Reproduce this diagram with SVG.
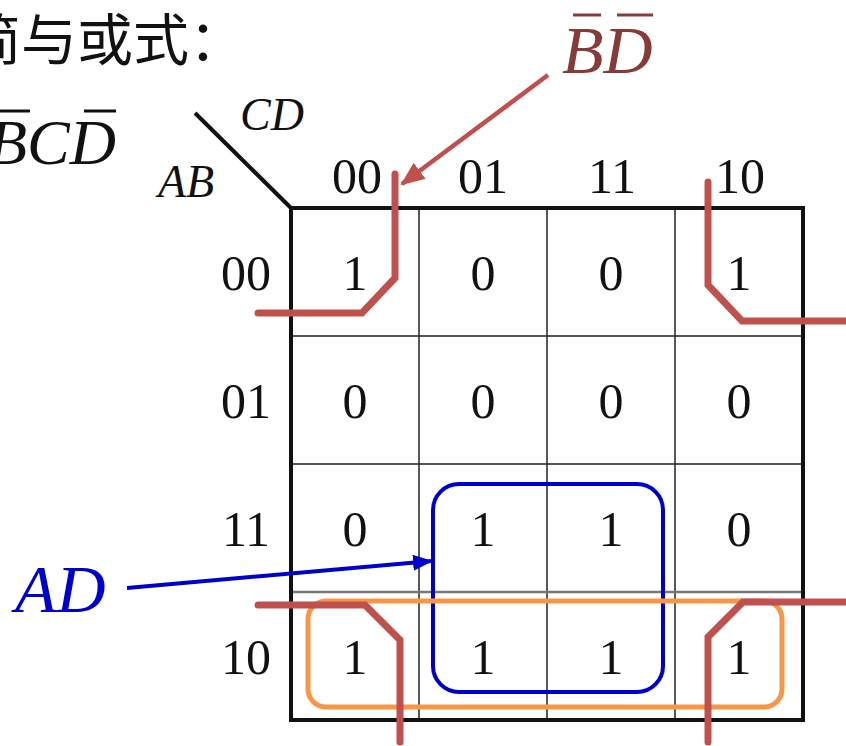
<svg xmlns="http://www.w3.org/2000/svg" width="846" height="746" viewBox="0 0 846 746">
<defs>
<style>
.t{font-family:"Liberation Serif","Times New Roman",serif;fill:#111}
.num{font-size:50px;text-anchor:middle}
.it{font-style:italic}
.grid{stroke:#222;fill:none}
.red{stroke:#C0504D;stroke-width:7;fill:none;stroke-linecap:round;stroke-linejoin:miter}
</style>
<marker id="ahr" markerUnits="userSpaceOnUse" markerWidth="24" markerHeight="20" viewBox="0 0 24 20" refX="22" refY="10" orient="auto">
<path d="M0,0 L24,10 L0,20 Z" fill="#C0504D"/>
</marker>
<marker id="ahb" markerUnits="userSpaceOnUse" markerWidth="20" markerHeight="16" viewBox="0 0 20 16" refX="19" refY="8" orient="auto">
<path d="M0,0 L20,8 L0,16 Z" fill="#0000CC"/>
</marker>
</defs>
<rect width="846" height="746" fill="#fff"/>

<g id="header-text">
<text x="-35" y="60" style="font-family:'Noto Sans CJK SC','Noto Sans',sans-serif;font-size:56px" fill="#111">简与或式：</text>
<text class="t it" x="-12" y="164" font-size="64">BCD</text>
<line x1="0" y1="111" x2="30" y2="111" stroke="#111" stroke-width="3"/>
<line x1="84" y1="111" x2="116" y2="111" stroke="#111" stroke-width="3"/>
</g>

<g id="kmap-grid">
<line x1="195" y1="113" x2="291" y2="208" stroke="#111" stroke-width="4"/>
<line class="grid" x1="419" y1="208" x2="419" y2="720" stroke-width="1.5"/>
<line class="grid" x1="547" y1="208" x2="547" y2="720" stroke-width="1.5"/>
<line class="grid" x1="675" y1="208" x2="675" y2="720" stroke-width="1.5"/>
<line class="grid" x1="291" y1="336" x2="803" y2="336" stroke-width="1.5"/>
<line class="grid" x1="291" y1="464" x2="803" y2="464" stroke-width="1.5"/>
<line x1="291" y1="592" x2="803" y2="592" stroke="#777" stroke-width="2.5"/>
<rect x="291" y="208" width="512" height="512" fill="none" stroke="#111" stroke-width="4"/>
<text class="t it" x="240" y="130" font-size="46">CD</text>
<text class="t it" x="158" y="197" font-size="46">AB</text>
</g>

<g id="col-headers">
<text class="t num" x="357" y="193">00</text>
<text class="t num" x="483" y="193">01</text>
<text class="t num" x="612" y="193">11</text>
<text class="t num" x="740" y="193">10</text>
</g>
<g id="row-headers">
<text class="t num" x="246" y="290">00</text>
<text class="t num" x="246" y="418">01</text>
<text class="t num" x="246" y="546">11</text>
<text class="t num" x="246" y="674">10</text>
</g>
<g id="cells">
<text class="t num" x="355" y="290">1</text>
<text class="t num" x="483" y="290">0</text>
<text class="t num" x="611" y="290">0</text>
<text class="t num" x="739" y="290">1</text>
<text class="t num" x="355" y="418">0</text>
<text class="t num" x="483" y="418">0</text>
<text class="t num" x="611" y="418">0</text>
<text class="t num" x="739" y="418">0</text>
<text class="t num" x="355" y="546">0</text>
<text class="t num" x="483" y="546">1</text>
<text class="t num" x="611" y="546">1</text>
<text class="t num" x="739" y="546">0</text>
<text class="t num" x="355" y="674">1</text>
<text class="t num" x="483" y="674">1</text>
<text class="t num" x="611" y="674">1</text>
<text class="t num" x="739" y="674">1</text>
</g>

<g id="loop-AD">
<rect x="433" y="484" width="230" height="208" rx="26" fill="none" stroke="#0000CC" stroke-width="4"/>
</g>
<g id="loop-ABbarD">
<rect x="308" y="601" width="474" height="106" rx="18" fill="none" stroke="#F79646" stroke-width="5"/>
</g>
<g id="loop-BbarDbar">
<polyline class="red" points="395,174 395,278 362,313 258,313"/>
<polyline class="red" points="708,182 708,285 742,321 850,321"/>
<polyline class="red" points="258,605 365,605 400,640 400,742"/>
<polyline class="red" points="850,602 743,602 708,637 708,742"/>
</g>

<g id="label-BD">
<text class="it" x="562" y="73" font-size="68" style="font-family:'Liberation Serif',serif" fill="#873B39">BD</text>
<line x1="573" y1="15" x2="601" y2="15" stroke="#873B39" stroke-width="3"/>
<line x1="617" y1="15" x2="653" y2="15" stroke="#873B39" stroke-width="3"/>
</g>
<g id="label-AD">
<text class="it" x="15" y="612" font-size="68" style="font-family:'Liberation Serif',serif" fill="#0000CC">AD</text>
</g>

<g id="connectors">
<line x1="548" y1="75" x2="402" y2="184" stroke="#C0504D" stroke-width="4.5" marker-end="url(#ahr)"/>
<line x1="127" y1="588" x2="432" y2="561" stroke="#0000CC" stroke-width="4" marker-end="url(#ahb)"/>
</g>
</svg>
